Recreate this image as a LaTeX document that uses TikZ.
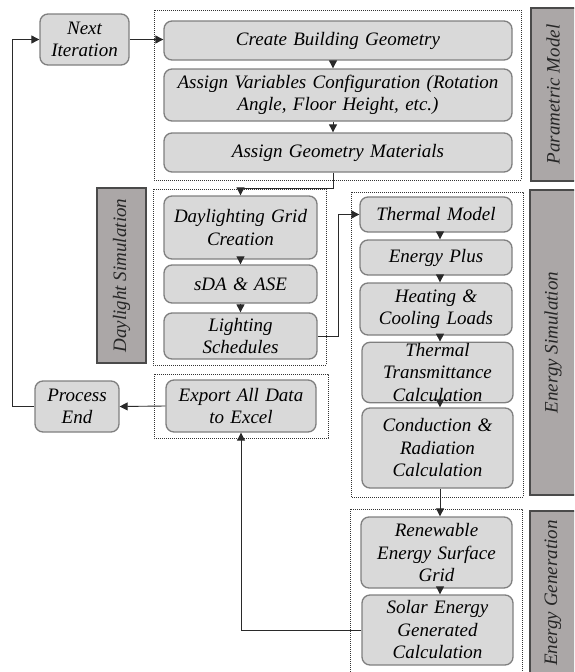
\documentclass[tikz,border=0pt]{standalone}
\usepackage{fontspec}
\newfontfamily\tnri{Liberation Serif Italic}
\usetikzlibrary{arrows.meta,calc}
\definecolor{boxfill}{HTML}{D9D9D9}
\definecolor{boxline}{HTML}{7F7F7F}
\definecolor{barfill}{HTML}{ABA7A7}
\definecolor{barline}{HTML}{4A4A4A}
\definecolor{conn}{HTML}{2A2A2A}
\tikzset{
  stepbox/.style={draw=boxline, fill=boxfill, line width=1.3pt, rounded corners=8pt,
    align=center, inner sep=1pt, font=\tnri\fontsize{19}{22.5}\selectfont},
  framebox/.style={draw=black!80, line width=0.7pt, dash pattern=on 0.9pt off 1.1pt},
  sidebar/.style={draw=barline, fill=barfill, line width=1.4pt},
  sidetext/.style={rotate=90, font=\tnri\fontsize{19}{22.5}\selectfont, text=black!85},
  arr/.style={draw=conn, line width=0.9pt, -{Triangle[length=8pt,width=8pt]}},
}
\newcommand{\bx}[6]{% name, x1, y1, x2, y2, text
  \node[stepbox, minimum width={#4-#2}, minimum height={#5-#3}, text width={#4-#2-4}]
    (#1) at ({(#2+#4)/2},{(#3+#5)/2}) {#6};}
\begin{document}
\begin{tikzpicture}[x=1pt,y=-1pt]
\useasboundingbox (0,0) rectangle (574,672);
\clip (0,0) rectangle (574,672);

% frames
\draw[framebox] (154,10) rectangle (521,180);
\draw[framebox] (153,189) rectangle (326,365);
\draw[framebox] (351,192) rectangle (523,497);
\draw[framebox] (350,509) rectangle (522,690);
\draw[framebox] (154,374) rectangle (328,438);

% side bars
\draw[sidebar] (531,8) rectangle (590,181);
\node[sidetext] (pmt) at (553,94.5) {Parametric Model};
\draw[sidebar] (97,188) rectangle (146,363);
\node[sidetext] (dst) at (121.5,275.5) {Daylight Simulation};
\draw[sidebar] (530,190) rectangle (590,495);
\node[sidetext] (est) at (553,342.5) {Energy Simulation};
\draw[sidebar] (530,511) rectangle (590,690);
\node[sidetext] (egt) at (553,593) {Energy Generation};

% boxes
\bx{next}{40}{14}{129}{65}{Next\\Iteration}
\bx{create}{164}{21}{512}{60}{Create Building Geometry}
\bx{assignvar}{164}{69}{512}{121}{Assign Variables Configuration (Rotation\\Angle, Floor Height, etc.)}
\bx{assigngeo}{164}{133}{512}{172}{Assign Geometry Materials}
\bx{daygrid}{164}{196}{317}{259}{Daylighting Grid\\Creation}
\bx{sda}{164}{265}{317}{303}{sDA \& ASE}
\bx{light}{164}{313}{317}{359}{Lighting\\Schedules}
\bx{thermal}{360}{197}{512}{232}{Thermal Model}
\bx{eplus}{360}{240}{512}{275}{Energy Plus}
\bx{heat}{360}{283}{512}{335}{Heating \&\\Cooling Loads}
\bx{trans}{362}{343}{513}{402}{Thermal\\Transmittance\\Calculation}
\bx{cond}{362}{408}{513}{488}{Conduction \&\\Radiation\\Calculation}
\bx{renew}{361}{517}{512}{588}{Renewable\\Energy Surface\\Grid}
\bx{solar}{362}{595}{513}{665}{Solar Energy\\Generated\\Calculation}
\bx{export}{166}{380}{316}{432}{Export All Data\\to Excel}
\bx{pend}{35}{381}{119}{432}{Process\\End}

% helper coordinates
\coordinate (cx1) at (333,0);
\coordinate (cy1) at (0,188);
\coordinate (cx2) at (338,0);
\coordinate (cx3) at (440,0);
\coordinate (cx4) at (12,0);

% connectors
\draw[arr] (next.east) -- (next.east -| create.west);
\draw[arr] (create.south -| cx1) -- (assignvar.north -| cx1);
\draw[arr] (assignvar.south -| cx1) -- (assigngeo.north -| cx1);
\draw[arr] (assigngeo.south -| cx1) |- (daygrid.north |- cy1) -- (daygrid.north);
\draw[arr] (daygrid) -- (sda);
\draw[arr] (sda) -- (light);
\draw[arr] (light.east) -- (light.east -| cx2) |- (thermal.west);
\draw[arr] (thermal.south -| cx3) -- (eplus.north -| cx3);
\draw[arr] (eplus.south -| cx3) -- (heat.north -| cx3);
\draw[arr] (heat.south -| cx3) -- (trans.north -| cx3);
\draw[arr] (trans.south -| cx3) -- (cond.north -| cx3);
\draw[arr] (cond.south -| cx3) -- (renew.north -| cx3);
\draw[arr] (renew.south -| cx3) -- (solar.north -| cx3);
\draw[arr] (solar.west) -| (export.south);
\draw[arr] (export.west) -- (pend.east);
\draw[arr] (pend.west) -- (pend.west -| cx4) |- (next.west);
\end{tikzpicture}
\end{document}
